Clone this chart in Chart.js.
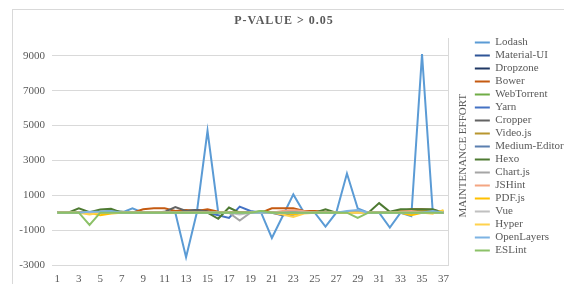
<!DOCTYPE html>
<html>
<head>
<meta charset="utf-8">
<script src="https://cdn.jsdelivr.net/npm/chart.js@4"></script>
<style>
  html, body { margin: 0; padding: 0; background: #fff; }
  #wrap { width: 564px; height: 284px; position: relative; }
</style>
</head>
<body>
<div id="wrap"><canvas id="chart"></canvas></div>
<script>
// x categories
const labels = ['1','2','3','4','5','6','7','8','9','10','11','12','13','14','15','16','17','18','19',
  '20','21','22','23','24','25','26','27','28','29','30','31','32','33','34','35','36','37'];
const yTicks = [-3000, -1000, 1000, 3000, 5000, 7000, 9000];

// series values
const lodash       = [0,0,0,0,0,0,0,250,0,0,0,0,-2550,0,4700,0,0,0,0,0,-1450,-200,1050,0,0,-800,0,2250,250,0,0,-850,0,-200,9100,50,0];
const materialUI   = [0,0,0,0,0,0,0,0,0,0,0,0,0,0,0,0,0,0,0,0,0,-150,-100,0,0,0,0,0,0,0,0,0,0,0,0,0,0];
const dropzone     = [0,0,0,0,0,0,0,0,0,0,0,0,100,150,80,0,0,0,0,0,0,0,0,0,0,0,0,0,0,0,0,0,0,50,80,50,0];
const bower        = [0,0,0,0,0,0,0,0,200,250,250,100,150,100,200,50,0,0,0,0,250,250,250,100,100,50,0,0,0,0,0,0,100,200,200,150,0];
const webTorrent   = [0,0,0,0,0,100,50,0,0,0,0,0,0,0,0,0,0,0,0,100,0,0,0,0,0,0,0,0,0,0,0,0,0,0,0,0,0];
const yarn         = [0,0,0,0,0,0,0,0,0,0,0,0,0,0,0,-150,-300,350,100,0,0,0,0,0,0,0,0,0,0,0,0,0,0,0,0,0,0];
const cropper      = [0,0,0,0,0,0,0,0,0,0,50,320,100,150,50,0,0,0,0,0,0,0,0,0,0,0,0,0,0,0,0,0,0,0,0,0,0];
const videojs      = [0,0,0,0,0,0,0,0,0,0,0,0,0,0,0,0,0,0,0,0,0,0,0,0,0,0,0,0,0,0,0,0,100,100,150,100,0];
const mediumEditor = [0,0,0,0,50,80,50,0,0,0,0,0,0,0,0,0,0,0,0,0,0,0,0,0,0,0,0,0,0,0,0,0,0,0,0,0,0];
const hexo         = [0,0,250,30,180,220,0,0,0,0,0,0,0,0,0,-350,300,0,0,0,0,0,0,0,0,200,0,0,0,0,550,50,200,200,200,200,0];
const chartjs      = [0,0,0,0,0,0,0,0,0,0,0,0,0,0,0,0,0,-450,0,0,0,0,0,0,0,0,0,0,0,0,0,0,0,0,0,0,0];
const jshint       = [0,0,0,0,0,0,0,0,0,0,0,0,0,0,0,0,0,0,0,0,0,100,150,80,0,0,0,0,0,0,0,0,50,100,0,0,0];
const pdfjs        = [0,0,0,0,-150,-50,0,0,0,0,0,0,0,0,0,0,0,0,0,0,0,0,-100,0,0,0,0,0,0,0,0,0,0,-150,0,-50,150];
const vue          = [0,0,0,0,0,0,0,0,0,0,0,0,0,0,0,0,0,-100,0,0,0,0,0,0,0,0,0,0,0,0,0,0,0,0,0,0,0];
const hyper        = [0,0,0,-100,0,0,0,0,0,0,0,0,0,0,0,0,0,0,0,0,0,-100,-250,-50,0,0,0,0,0,0,0,0,0,0,0,0,100];
const openLayers   = [0,0,0,50,50,100,0,0,0,0,0,0,0,0,0,0,0,0,0,0,0,0,0,0,0,0,0,100,150,0,0,0,0,0,0,100,0];
const eslint       = [0,0,0,-700,0,0,0,0,0,0,0,0,0,0,0,0,0,0,0,100,0,0,0,0,0,0,0,0,-300,0,0,0,0,0,0,0,0];

const seriesNames = ['Lodash','Material-UI','Dropzone','Bower','WebTorrent','Yarn','Cropper','Video.js',
  'Medium-Editor','Hexo','Chart.js','JSHint','PDF.js','Vue','Hyper','OpenLayers','ESLint'];
const seriesData = [lodash, materialUI, dropzone, bower, webTorrent, yarn, cropper, videojs,
  mediumEditor, hexo, chartjs, jshint, pdfjs, vue, hyper, openLayers, eslint];
const seriesColors = ['#5B9BD5','#2F5597','#203864','#C55A11','#70AD47','#4472C4','#636363','#B8962E',
  '#5B7FAF','#4E7A32','#A5A5A5','#F4A582','#FFC000','#C0C0C0','#FFD24D','#7DB3E3','#8CC168'];

const txt = '#595959';
const serif = '"Liberation Serif", "DejaVu Serif", serif';
const titleText = 'P-VALUE > 0.05';

// light frame around the whole chart
const framePlugin = {
  id: 'frame',
  beforeDraw(chart) {
    const ctx = chart.ctx;
    ctx.save();
    ctx.strokeStyle = '#d9d9d9';
    ctx.lineWidth = 1;
    ctx.strokeRect(12.5, 9.5, 560, 290);
    ctx.restore();
  }
};

// spaced-out title + rotated axis title between plot and legend
const textPlugin = {
  id: 'texts',
  afterDraw(chart) {
    const ctx = chart.ctx;
    const a = chart.chartArea;
    ctx.save();
    ctx.font = 'bold 12px ' + serif;
    ctx.fillStyle = txt;
    ctx.textAlign = 'center';
    ctx.textBaseline = 'middle';
    ctx.letterSpacing = '1px';
    ctx.fillText(titleText, 284, 21);
    ctx.restore();

    ctx.save();
    ctx.translate(463, (a.top + a.bottom) / 2 + 4);
    ctx.rotate(-Math.PI / 2);
    ctx.font = '11px ' + serif;
    ctx.fillStyle = txt;
    ctx.textAlign = 'center';
    ctx.textBaseline = 'middle';
    ctx.fillText('MAINTENANCE EFFORT', 0, 0);
    ctx.restore();
  }
};

new Chart(document.getElementById('chart'), {
  type: 'line',
  data: {
    labels,
    datasets: seriesNames.map((name, i) => ({
      label: name,
      data: seriesData[i],
      borderColor: seriesColors[i],
      backgroundColor: seriesColors[i],
      borderWidth: 2,
      pointRadius: 0,
      pointStyle: 'line',
      tension: 0,
      order: seriesNames.length - i,
    }))
  },
  options: {
    responsive: true,
    maintainAspectRatio: false,
    animation: false,
    layout: { padding: { left: 12, top: 9, right: -1, bottom: 0 } },
    plugins: {
      title: {
        display: true,
        text: titleText,
        color: 'rgba(0,0,0,0)',
        font: { family: serif, size: 12, weight: 'bold' },
        padding: { top: 5, bottom: 10 }
      },
      legend: {
        position: 'right',
        align: 'center',
        labels: {
          color: txt,
          font: { family: serif, size: 11 },
          usePointStyle: true,
          pointStyleWidth: 15,
          padding: 2,
          sort: (a, b) => a.datasetIndex - b.datasetIndex
        }
      },
      tooltip: { enabled: false }
    },
    scales: {
      x: {
        offset: true,
        afterFit: s => { s.height = 19; },
        grid: { display: false },
        border: { display: false },
        ticks: {
          color: txt,
          font: { family: serif, size: 11 },
          maxRotation: 0,
          autoSkip: false,
          padding: 0,
          callback: (v, i) => (i % 2 === 0 ? labels[i] : '')
        }
      },
      y: {
        min: -3000,
        max: 10000,
        afterBuildTicks: s => { s.ticks = yTicks.map(v => ({ value: v })); },
        afterFit: s => { s.width = 40; },
        grid: { color: '#d9d9d9', drawTicks: false },
        border: { display: false },
        ticks: { color: txt, font: { family: serif, size: 11 }, padding: 7, callback: v => String(v) }
      },
      y2: {
        position: 'right',
        min: -3000,
        max: 10000,
        afterFit: s => { s.width = 24; },
        grid: { display: false, drawTicks: false },
        border: { display: true, color: '#d9d9d9' },
        ticks: { display: false }
      }
    }
  },
  plugins: [framePlugin, textPlugin]
});
</script>
</body>
</html>
